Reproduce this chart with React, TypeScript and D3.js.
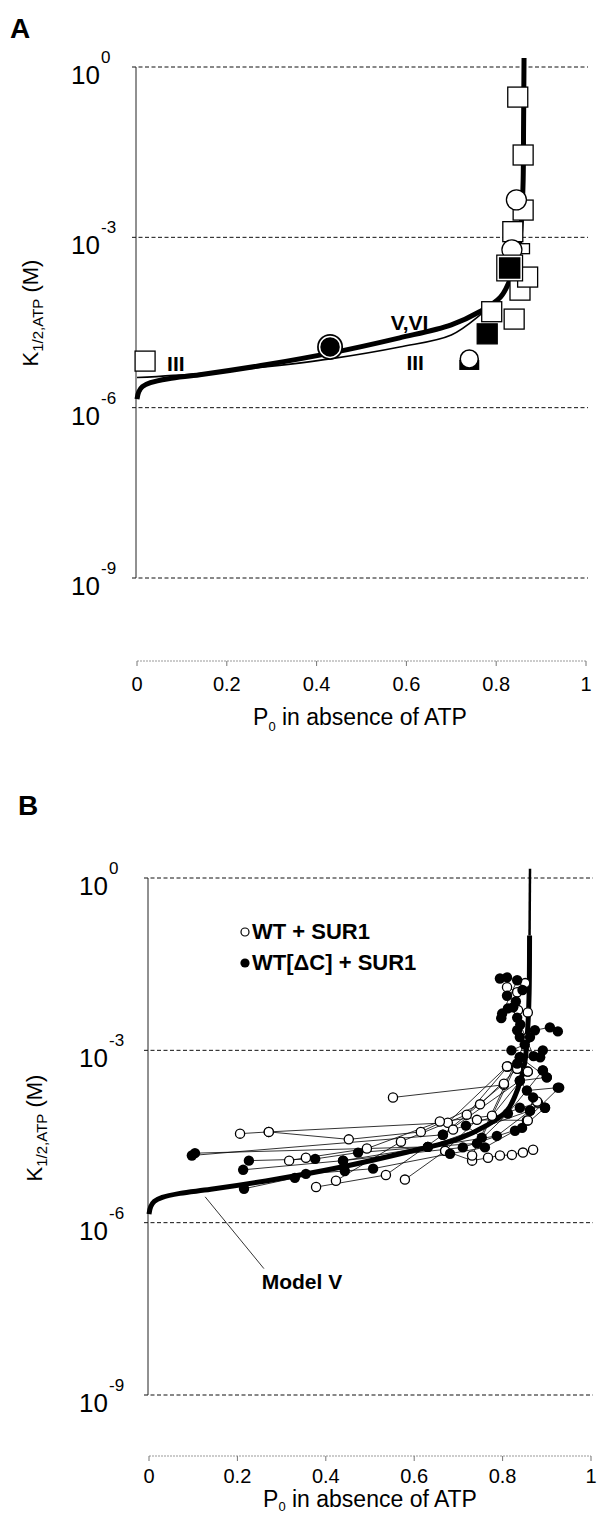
import React from 'react';
import * as d3 from 'd3';

// axis ticks
const xTicks = [0, 0.2, 0.4, 0.6, 0.8, 1];
const xTickLabels = ['0', '0.2', '0.4', '0.6', '0.8', '1'];
const yDecades = [0, -3, -6, -9];

// model curves, [P0, log10 K1/2]
const modelV: [number, number][] = [
  [0, -5.85], [0.004, -5.72], [0.012, -5.63], [0.03, -5.56], [0.07, -5.49], [0.14, -5.42],
  [0.29, -5.24], [0.43, -5.04], [0.585, -4.77], [0.7, -4.54], [0.763, -4.31], [0.81, -4.05],
  [0.835, -3.66], [0.85, -3.22], [0.857, -2.6], [0.86, -2.0], [0.861, -1.0], [0.862, 0.16],
];
const modelIII: [number, number][] = [
  [0, -5.47], [0.14, -5.4], [0.29, -5.28], [0.43, -5.14], [0.585, -4.93], [0.7, -4.72],
  [0.77, -4.33], [0.81, -4.05], [0.835, -3.66],
];

// panel A symbols
const aOpenSquares: [number, number][] = [
  [0.018, -5.18], [0.79, -4.31], [0.84, -4.44], [0.853, -3.93], [0.87, -3.7], [0.837, -2.9],
  [0.86, -2.52], [0.86, -1.55], [0.848, -0.53],
];
const aSmallSquares: [number, number][] = [[0.863, -3.2]];
const aOpenCircles: [number, number][] = [[0.835, -3.22], [0.845, -2.34]];
const aFilledSquares: [number, number][] = [[0.78, -4.7]];
const aHalfCircles: [number, number][] = [[0.74, -5.16]];
const aBigSquares: [number, number][] = [[0.83, -3.54]];
const aRingCircles: [number, number][] = [[0.43, -4.93]];

// panel B patches, WT + SUR1 (open)
const wtChains: [number, number][][] = [
  [[0.552, -3.82], [0.803, -3.6]],
  [[0.206, -4.45], [0.271, -4.42], [0.676, -4.26], [0.81, -3.28]],
  [[0.271, -4.42], [0.452, -4.55], [0.615, -4.42], [0.749, -3.94], [0.833, -3.32]],
  [[0.317, -4.92], [0.355, -4.87], [0.493, -4.71], [0.658, -4.24], [0.776, -4.14], [0.857, -3.37]],
  [[0.423, -5.27], [0.57, -4.59], [0.719, -4.12], [0.812, -3.28]],
  [[0.378, -5.38], [0.536, -5.17], [0.665, -4.47], [0.803, -3.58]],
  [[0.579, -5.25], [0.67, -4.75], [0.742, -4.21], [0.855, -4.22]],
  [[0.67, -4.75], [0.731, -4.92], [0.767, -4.87], [0.794, -4.83], [0.821, -4.82], [0.846, -4.78], [0.869, -4.73]],
  [[0.688, -4.38], [0.88, -3.91]],
  [[0.731, -4.83], [0.855, -2.79]],
  [[0.81, -1.9], [0.833, -1.99], [0.851, -1.83]],
  [[0.835, -2.3], [0.857, -2.34], [0.855, -2.79]],
  [[0.81, -3.28], [0.833, -3.32], [0.857, -3.37]],
  [[0.878, -3.89], [0.857, -4.22]],
];

// panel B patches, WT[ΔC] + SUR1 (filled)
const dcChains: [number, number][][] = [
  [[0.097, -4.83], [0.665, -4.47], [0.839, -3.53]],
  [[0.104, -4.79], [0.631, -4.68], [0.862, -4.05]],
  [[0.226, -4.92], [0.376, -4.89], [0.473, -4.78], [0.631, -4.68], [0.787, -4.49], [0.862, -4.05]],
  [[0.213, -5.08], [0.439, -4.92], [0.71, -4.69], [0.844, -4.35], [0.896, -4.0]],
  [[0.215, -5.41], [0.33, -5.22], [0.355, -5.15], [0.443, -5.1], [0.507, -5.06], [0.681, -4.8], [0.76, -4.69], [0.828, -4.4], [0.928, -3.65]],
  [[0.439, -4.92], [0.631, -4.68], [0.742, -4.62], [0.812, -4.1], [0.891, -3.35]],
  [[0.717, -4.31], [0.753, -4.52], [0.839, -3.12], [0.9, -3.47]],
  [[0.794, -1.75], [0.81, -1.73], [0.833, -1.78], [0.799, -2.36], [0.797, -2.44], [0.812, -2.27]],
  [[0.824, -2.25], [0.833, -2.43], [0.833, -2.65], [0.839, -2.77], [0.862, -2.77], [0.873, -2.65], [0.907, -2.6], [0.925, -2.67]],
  [[0.891, -3.0], [0.885, -3.12], [0.839, -3.12], [0.833, -3.23]],
  [[0.891, -3.35], [0.9, -3.47], [0.839, -3.53], [0.855, -3.7], [0.925, -3.65]],
  [[0.869, -3.82], [0.862, -4.05], [0.839, -4.0], [0.896, -4.0]],
  [[0.82, -3.0], [0.85, -2.9], [0.87, -3.1], [0.84, -2.55]],
  [[0.81, -2.05], [0.83, -2.15], [0.845, -1.95]],
];

const FONT = 'Liberation Sans, Arial, sans-serif';

function Panel({ letter, x0, x1, yTop, yBot, axisY, tickDy, titleDy, subDy, labelX, labelY, titleX, tenGap, children }: any) {
  const x = d3.scaleLinear().domain([0, 1]).range([x0, x1]);
  const y = d3.scaleLog().domain([1e-9, 1]).range([yBot, yTop]);
  const ax = x0 - 1;
  return (
    <g>
      <text x={letter.x} y={letter.y} fontFamily={FONT} fontWeight="bold" fontSize={28}>{letter.t}</text>
      {/* gridlines */}
      {yDecades.map((e) => (
        <g key={e}>
          <line x1={ax - 4} x2={x1 + 2} y1={y(10 ** e)} y2={y(10 ** e)} stroke="#111" strokeWidth={1} strokeDasharray="4,2.5" />
          <text x={ax - tenGap} y={y(10 ** e) + 17} textAnchor="end" fontFamily={FONT} fontSize={26}>10</text>
          <text x={ax - tenGap + 1} y={y(10 ** e) - 4} fontFamily={FONT} fontSize={17}>{e === 0 ? '0' : e}</text>
        </g>
      ))}
      <line x1={ax} x2={ax} y1={yTop} y2={yBot} stroke="#222" strokeWidth={1} />
      {/* x axis */}
      <line x1={x(0)} x2={x(1)} y1={axisY} y2={axisY} stroke="#999" strokeWidth={1} strokeDasharray="2,1" />
      {xTicks.map((t, i) => (
        <g key={t}>
          <line x1={x(t)} x2={x(t)} y1={axisY} y2={axisY + 5} stroke="#777" strokeWidth={1} />
          <text x={x(t)} y={axisY + tickDy} textAnchor="middle" fontFamily={FONT} fontSize={20}>{xTickLabels[i]}</text>
        </g>
      ))}
      <text x={titleX} y={axisY + titleDy} textAnchor="middle" fontFamily={FONT} fontSize={23}>
        P<tspan fontSize={13} dy={subDy}>0</tspan><tspan dy={-subDy}> in absence of ATP</tspan>
      </text>
      <text transform={`translate(${labelX},${labelY}) rotate(-90)`} textAnchor="middle" fontFamily={FONT} fontSize={22}>
        K<tspan fontSize={15} dy={5}>1/2,ATP</tspan><tspan dy={-5}> (M)</tspan>
      </text>
      {children(x, y)}
    </g>
  );
}

const sq = (cx: number, cy: number, s: number, fill: string, k: string) => (
  <rect key={k} x={cx - s / 2} y={cy - s / 2} width={s} height={s} fill={fill} stroke="#000" strokeWidth={1.3} />
);

export default function App() {
  return (
    <svg width={602} height={1514} style={{ position: 'absolute', left: 0, top: 0, background: '#fff' }}>
      <Panel letter={{ t: 'A', x: 10, y: 38 }} x0={137} x1={586} yTop={67} yBot={578} axisY={661}
        tickDy={30} titleDy={64} subDy={6} labelX={38} labelY={313} titleX={360} tenGap={36}>
        {(x: any, y: any) => {
          const line = d3.line<[number, number]>().x((d) => x(d[0])).y((d) => y(10 ** d[1])).curve(d3.curveCatmullRom.alpha(0.5));
          const P = (d: [number, number]) => [x(d[0]), y(10 ** d[1])];
          return (
            <g>
              <path d={line(modelIII) || ''} fill="none" stroke="#000" strokeWidth={1.6} />
              <path d={line(modelV) || ''} fill="none" stroke="#000" strokeWidth={5} />
              {aOpenSquares.map((d, i) => { const [cx, cy] = P(d); return sq(cx, cy, 20, '#fff', 'os' + i); })}
              {aSmallSquares.map((d, i) => { const [cx, cy] = P(d); return sq(cx, cy, 10, '#fff', 'ss' + i); })}
              {aOpenCircles.map((d, i) => { const [cx, cy] = P(d); return <circle key={'oc' + i} cx={cx} cy={cy} r={10} fill="#fff" stroke="#000" strokeWidth={1.3} />; })}
              {aFilledSquares.map((d, i) => { const [cx, cy] = P(d); return sq(cx, cy, 20, '#000', 'fs' + i); })}
              {aHalfCircles.map((d, i) => {
                const [cx, cy] = P(d);
                return (
                  <g key={'hc' + i}>
                    <rect x={cx - 10} y={cy} width={20} height={10} fill="#000" />
                    <circle cx={cx} cy={cy - 1} r={9} fill="#fff" stroke="#000" strokeWidth={1.5} />
                  </g>
                );
              })}
              {aBigSquares.map((d, i) => {
                const [cx, cy] = P(d);
                return (
                  <g key={'bs' + i}>
                    <rect x={cx - 13.5} y={cy - 13.5} width={27} height={27} fill="#000" />
                    <rect x={cx - 11.5} y={cy - 11.5} width={23} height={23} fill="#000" stroke="#fff" strokeWidth={1.5} />
                  </g>
                );
              })}
              {aRingCircles.map((d, i) => {
                const [cx, cy] = P(d);
                return (
                  <g key={'rc' + i}>
                    <circle cx={cx} cy={cy} r={13} fill="#000" />
                    <circle cx={cx} cy={cy} r={10.5} fill="#000" stroke="#fff" strokeWidth={1.5} />
                  </g>
                );
              })}
              <text x={x(0.067)} y={y(10 ** -5.36)} fontFamily={FONT} fontWeight="bold" fontSize={21}>III</text>
              <text x={x(0.6)} y={y(10 ** -5.33)} fontFamily={FONT} fontWeight="bold" fontSize={21}>III</text>
              <text x={x(0.565)} y={y(10 ** -4.64)} fontFamily={FONT} fontWeight="bold" fontSize={21}>V,VI</text>
            </g>
          );
        }}
      </Panel>
      <Panel letter={{ t: 'B', x: 18, y: 815 }} x0={149} x1={591} yTop={878} yBot={1395} axisY={1456}
        tickDy={27} titleDy={51} subDy={4} labelX={42} labelY={1128} titleX={370} tenGap={40}>
        {(x: any, y: any) => {
          const line = d3.line<[number, number]>().x((d) => x(d[0])).y((d) => y(10 ** d[1])).curve(d3.curveCatmullRom.alpha(0.5));
          const flat = d3.line<[number, number]>().x((d) => x(d[0])).y((d) => y(10 ** d[1]));
          const n = modelV.length;
          return (
            <g>
              <line x1={x(0.127)} y1={y(10 ** -5.55)} x2={x(0.26)} y2={y(10 ** -6.8)} stroke="#000" strokeWidth={0.8} />
              <text x={x(0.255)} y={y(10 ** -7.15)} fontFamily={FONT} fontWeight="bold" fontSize={21}>Model V</text>
              <path d={line(modelV.slice(0, n - 1)) || ''} fill="none" stroke="#000" strokeWidth={5} />
              <path d={line(modelV.slice(n - 2)) || ''} fill="none" stroke="#000" strokeWidth={2.5} />
              {[...wtChains, ...dcChains].map((c, i) => (
                <path key={'l' + i} d={flat(c) || ''} fill="none" stroke="#000" strokeWidth={0.8} />
              ))}
              {wtChains.flat().map((d, i) => (
                <circle key={'o' + i} cx={x(d[0])} cy={y(10 ** d[1])} r={4.6} fill="#fff" stroke="#000" strokeWidth={1.3} />
              ))}
              {dcChains.flat().map((d, i) => (
                <circle key={'f' + i} cx={x(d[0])} cy={y(10 ** d[1])} r={5.2} fill="#000" />
              ))}
              <circle cx={245} cy={932} r={4} fill="#fff" stroke="#000" strokeWidth={1.2} />
              <text x={252} y={939} fontFamily={FONT} fontWeight="bold" fontSize={22}>WT + SUR1</text>
              <circle cx={245} cy={963} r={4.6} fill="#000" />
              <text x={252} y={970} fontFamily={FONT} fontWeight="bold" fontSize={22}>WT[ΔC] + SUR1</text>
            </g>
          );
        }}
      </Panel>
    </svg>
  );
}
